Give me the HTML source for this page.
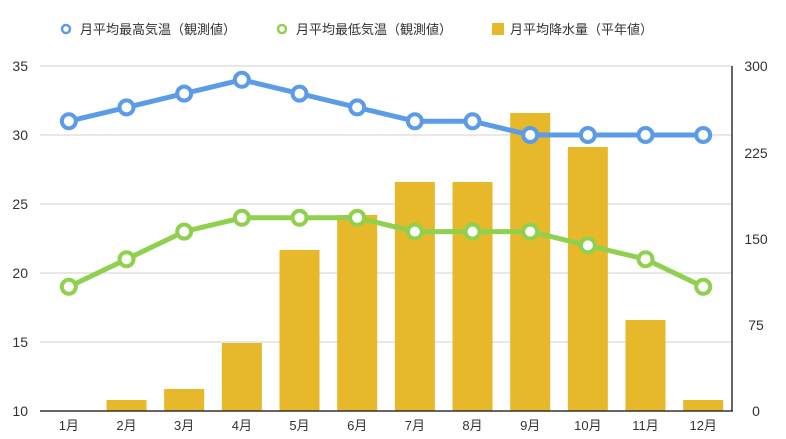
<!DOCTYPE html><html><head><style>body{margin:0;background:#fff}svg{display:block}text{font-family:"Liberation Sans","Noto Sans CJK JP",sans-serif;fill:#333}</style></head><body>
<svg width="786" height="439" viewBox="0 0 786 439">
<g stroke="#d0d0d0" stroke-width="1">
<line x1="40" x2="732" y1="66" y2="66"/><line x1="40" x2="732" y1="135" y2="135"/><line x1="40" x2="732" y1="204" y2="204"/><line x1="40" x2="732" y1="273" y2="273"/><line x1="40" x2="732" y1="342" y2="342"/>
</g>
<g fill="#e6b82a" id="bars"></g>
<line x1="40" x2="733" y1="411" y2="411" stroke="#333" stroke-width="1.5"/>
<line x1="732" x2="732" y1="66" y2="411" stroke="#333" stroke-width="1.5"/>
<g font-size="14" text-anchor="end">
<text x="28" y="71">35</text><text x="28" y="140">30</text><text x="28" y="209">25</text><text x="28" y="278">20</text><text x="28" y="347">15</text><text x="28" y="416">10</text>
</g>
<g font-size="14" text-anchor="middle">
<text x="756" y="71">300</text><text x="756" y="158">225</text><text x="756" y="244">150</text><text x="756" y="330">75</text><text x="756" y="416">0</text>
</g>
<g id="lines"></g>
<g font-size="13" id="xl" text-anchor="middle"></g>
<g font-size="13">
<circle cx="66" cy="29" r="4" fill="#fff" stroke="#5b9be8" stroke-width="2.5"/><text x="80" y="34">月平均最高気温（観測値）</text>
<circle cx="282" cy="29" r="4" fill="#fff" stroke="#8fd14f" stroke-width="2.5"/><text x="296" y="34">月平均最低気温（観測値）</text>
<rect x="492" y="23" width="12" height="12" fill="#e6b82a"/><text x="510" y="34">月平均降水量（平年値）</text>
</g>
</svg>
<script>
var bw=57.67,c=i=>40+bw*(i+.5);
var bh=[0,11,22,68,161,196,229,229,298,264,91,11];
var b='',xl='';
bh.forEach((h,i)=>{if(h)b+=`<rect x="${c(i)-20}" y="${411-h}" width="40" height="${h}"/>`;xl+=`<text x="${c(i)}" y="430">${i+1}月</text>`});
document.getElementById('bars').innerHTML=b;
document.getElementById('xl').innerHTML=xl;
var y=v=>411-(v-10)*13.8;
function ser(d,col){var p=d.map((v,i)=>c(i)+','+y(v)).join(' ');var s=`<polyline points="${p}" fill="none" stroke="${col}" stroke-width="5" stroke-linejoin="round"/>`;d.forEach((v,i)=>s+=`<circle cx="${c(i)}" cy="${y(v)}" r="7" fill="#fff" stroke="${col}" stroke-width="4"/>`);return s}
document.getElementById('lines').innerHTML=ser([31,32,33,34,33,32,31,31,30,30,30,30],'#5b9be8')+ser([19,21,23,24,24,24,23,23,23,22,21,19],'#8fd14f');
</script>
</body></html>
